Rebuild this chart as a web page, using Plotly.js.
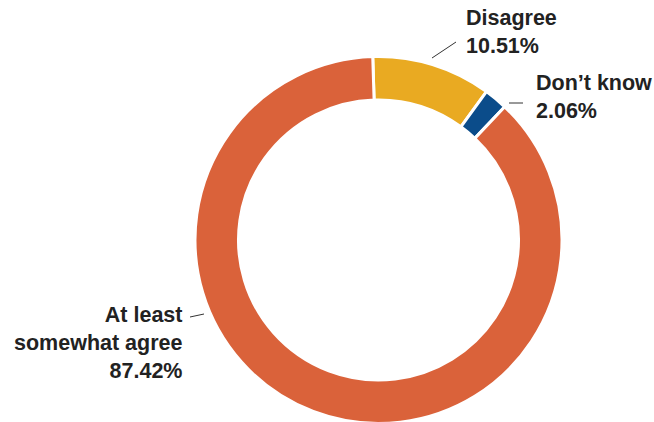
<!DOCTYPE html>
<html>
<head>
<meta charset="utf-8">
<script src="https://cdn.plot.ly/plotly-3.0.1.min.js"></script>
<style>
  html, body { margin: 0; padding: 0; background: #ffffff; overflow: hidden; }
  #chart { width: 654px; height: 430px; }
</style>
</head>
<body>
<div id="chart"></div>
<script>
// Data (order: clockwise from top)
const categories = ['Disagree', 'Don\u2019t know', 'At least somewhat agree'];
const labelLines = [['Disagree'], ['Don\u2019t know'], ['At least', 'somewhat agree']];
const values = [10.51, 2.06, 87.42];
const colors = ['#E9AA22', '#0B4C8A', '#DA623A'];

const W = 654, H = 430;
const px = (x) => x / W;
const py = (y) => (H - y) / H;

const trace = {
  type: 'pie',
  labels: categories,
  values: values,
  sort: false,
  direction: 'clockwise',
  rotation: -1.8,
  hole: 0.763,
  textinfo: 'none',
  hoverinfo: 'skip',
  automargin: false,
  marker: { colors: colors, line: { color: '#ffffff', width: 3 } },
  domain: { x: [px(195), px(562)], y: [py(423.5), py(56.5)] },
  showlegend: false
};

const textFont = { family: 'Liberation Sans, Arial, sans-serif', size: 21.5, color: '#222222', weight: 'bold' };
const labelText = (i) => labelLines[i].map(s => '<b>' + s + '</b>').join('<br>') + '<br><b>' + values[i].toFixed(2) + '%</b>';

const annotations = [
  { x: px(464), y: py(32), xanchor: 'left', yanchor: 'middle', align: 'left', text: labelText(0) },
  { x: px(534), y: py(97), xanchor: 'left', yanchor: 'middle', align: 'left', text: labelText(1) },
  { x: px(185), y: py(343), xanchor: 'right', yanchor: 'middle', align: 'right', text: labelText(2) }
].map(a => Object.assign({ xref: 'paper', yref: 'paper', showarrow: false, font: textFont }, a));

const lineStyle = { color: '#333333', width: 1 };
const shapes = [
  { type: 'line', xref: 'paper', yref: 'paper', x0: px(432), y0: py(58), x1: px(456), y1: py(42), line: lineStyle },
  { type: 'line', xref: 'paper', yref: 'paper', x0: px(509), y0: py(103), x1: px(523), y1: py(103), line: lineStyle },
  { type: 'line', xref: 'paper', yref: 'paper', x0: px(190), y0: py(317), x1: px(204), y1: py(314), line: lineStyle }
];

const layout = {
  width: W,
  height: H,
  margin: { l: 0, r: 0, t: 0, b: 0 },
  paper_bgcolor: '#ffffff',
  plot_bgcolor: '#ffffff',
  showlegend: false,
  annotations: annotations,
  shapes: shapes
};

Plotly.newPlot('chart', [trace], layout, { displayModeBar: false, staticPlot: true });
</script>
</body>
</html>
